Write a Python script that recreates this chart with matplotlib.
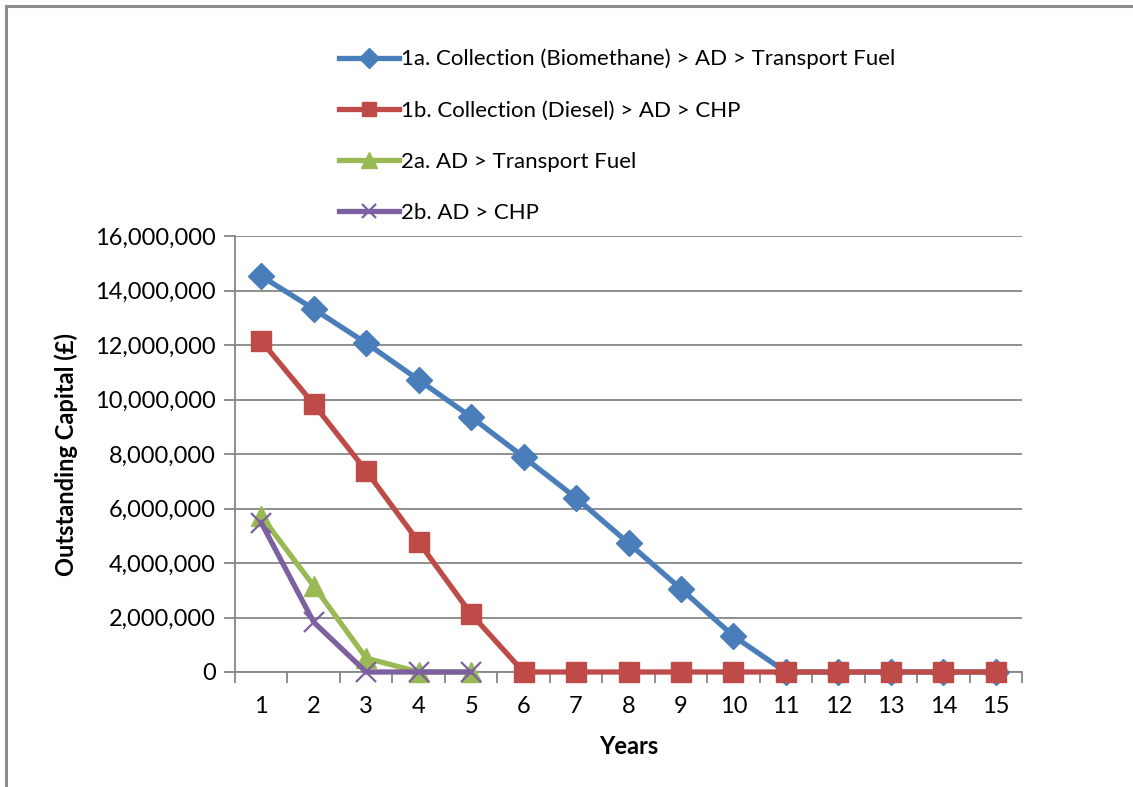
import matplotlib.pyplot as plt
from matplotlib.patches import Rectangle
from matplotlib.ticker import FuncFormatter, FixedLocator

plt.rcParams['font.family'] = ['Lato', 'DejaVu Sans']

years = list(range(1, 16))
labels = ["1a. Collection (Biomethane) > AD > Transport Fuel",
          "1b. Collection (Diesel) > AD > CHP",
          "2a. AD > Transport Fuel",
          "2b. AD > CHP"]

# outstanding capital, GBP
s1a = [14530000, 13320000, 12070000, 10720000, 9360000, 7890000, 6390000,
       4730000, 3050000, 1320000, 0, 0, 0, 0, 0]
s1b = [12150000, 9830000, 7380000, 4770000, 2130000, 0, 0, 0, 0, 0,
       0, 0, 0, 0, 0]
s2a = [5720000, 3160000, 510000, 0, 0]
s2b = [5480000, 1830000, 0, 0, 0]

fig = plt.figure(figsize=(11.33, 7.87), dpi=100)
ax = fig.add_axes([235/1133, 1-672/787, (1022-235)/1133, (672-236)/787])

# outer chart frame
fig.patches.append(Rectangle((6/1133, -0.1), 1.2, 1-6/787+0.1, transform=fig.transFigure,
                             fill=False, edgecolor='#8c8c8c', lw=2.2))

ax.plot(years, s1a, color='#4a7ebb', lw=3.8, marker='D', ms=13, label=labels[0],
        zorder=3, clip_on=False)
ax.plot(years, s1b, color='#be4b48', lw=3.8, marker='s', ms=14, label=labels[1],
        zorder=4, clip_on=False)
ax.plot(years[:5], s2a, color='#98b954', lw=3.8, marker='^', ms=15, label=labels[2],
        zorder=5, clip_on=False)
ax.plot(years[:5], s2b, color='#7d60a0', lw=3.8, marker='x', ms=14, mew=1.6,
        label=labels[3], zorder=6, clip_on=False)

ax.set_xlim(0.5, 15.5)
ax.set_ylim(0, 16000000)
ax.set_yticks(range(0, 16000001, 2000000))
ax.yaxis.set_major_formatter(FuncFormatter(lambda v, p: f"{int(v):,}"))
ax.set_xticks(years)
ax.xaxis.set_minor_locator(FixedLocator([x + 0.5 for x in range(0, 16)]))
ax.tick_params(axis='x', which='major', length=0, labelsize=17, pad=17)
ax.tick_params(axis='x', which='minor', length=8, width=1.3, color='#868686')
ax.tick_params(axis='y', length=8, width=1.3, color='#868686', labelsize=17, pad=6)
ax.grid(axis='y', color='#868686', lw=1.3)
ax.set_axisbelow(True)
for side in ['top', 'right']:
    ax.spines[side].set_visible(False)
for side in ['left', 'bottom']:
    ax.spines[side].set_color('#868686')
    ax.spines[side].set_linewidth(1.3)

ax.set_xlabel("Years", fontsize=17, fontweight='bold', labelpad=13)
ax.set_ylabel("Outstanding Capital (£)", fontsize=17, fontweight='bold', labelpad=12)

fig.legend(loc='upper left', bbox_to_anchor=(330/1133, 1-40/787), frameon=False,
           fontsize=16, handlelength=2.7, handletextpad=0.1, labelspacing=1.4,
           borderaxespad=0, markerscale=0.75)

fig.savefig("out.png", dpi=100)
